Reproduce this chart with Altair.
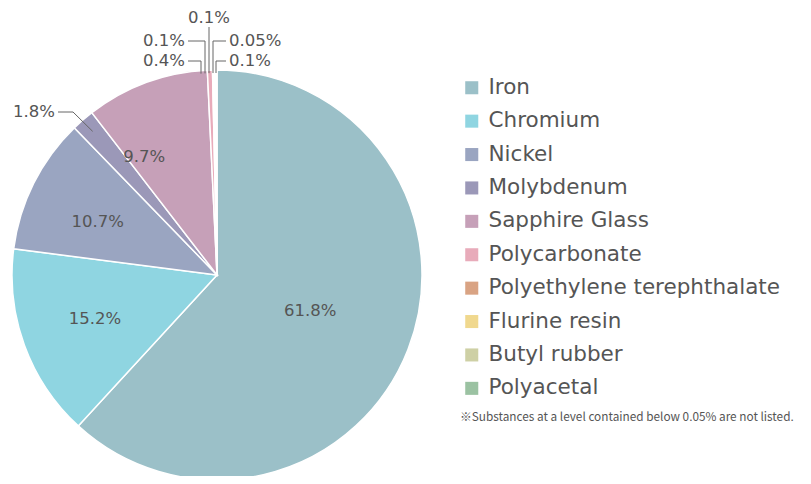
import math
import altair as alt
import pandas as pd

# ---- data ----
materials = ["Iron", "Chromium", "Nickel", "Molybdenum", "Sapphire Glass",
             "Polycarbonate", "Polyethylene terephthalate", "Flurine resin",
             "Butyl rubber", "Polyacetal"]
shares = [61.8, 15.2, 10.7, 1.8, 9.7, 0.4, 0.1, 0.1, 0.05, 0.1]
labels = ["61.8%", "15.2%", "10.7%", "1.8%", "9.7%", "0.4%", "0.1%", "0.1%", "0.05%", "0.1%"]
footnote = "※Substances at a level contained below 0.05% are not listed."

# ---- styles ----
colors = ["#9bc0c8", "#8fd5e1", "#9aa5c1", "#9b98b8", "#c6a0b8",
          "#e8abba", "#d9a383", "#f0d88e", "#ced0a5", "#9bc2a2"]
FONT = "DejaVu Sans"
NOTE_FONT = "Noto Sans CJK JP"
TXT = "#555555"
CX, CY, R = 209, 267, 205
W, H = 795, 468

df = pd.DataFrame({"material": materials, "share": shares, "label": labels,
                   "idx": list(range(len(materials)))})

total = sum(shares)
cum = 0.0
mids = []
for v in shares:
    mids.append((cum + v / 2) / total * 2 * math.pi)
    cum += v
df["mid"] = mids


def pt(angle, r):
    return CX + r * math.sin(angle), CY - r * math.cos(angle)


# inside label placement: radius and small nudges (px)
inside_style = {
    "Iron": dict(r=100, dx=0, dy=0),
    "Chromium": dict(r=130, dx=0, dy=-1),
    "Nickel": dict(r=130, dx=-3, dy=5),
    "Sapphire Glass": dict(r=130, dx=-28, dy=4),
}

# callout layout relative to the pie centre (px)
callout_style = {
    "Molybdenum": dict(side="left", elbow=(-144, -163), end_x=-159, edge_r=190),
    "Polycarbonate": dict(side="left", vx=-16, level=-214, end_x=-29),
    "Polyethylene terephthalate": dict(side="left", vx=-12, level=-234, end_x=-29),
    "Flurine resin": dict(side="top", vx=-8, level=-248),
    "Butyl rubber": dict(side="right", vx=-4, level=-234, end_x=9),
    "Polyacetal": dict(side="right", vx=-1, level=-214, end_x=9),
}

ins = []
for _, row in df.iterrows():
    st = inside_style.get(row["material"])
    if st is None:
        continue
    x, y = pt(row["mid"], st["r"])
    ins.append(dict(x=x + st["dx"], y=y + st["dy"], text=row["label"]))
ins_df = pd.DataFrame(ins)

segs = []
texts = []
for _, row in df.iterrows():
    st = callout_style.get(row["material"])
    if st is None:
        continue
    if row["material"] == "Molybdenum":
        ex, ey = pt(row["mid"], st["edge_r"])
        bx, by = CX + st["elbow"][0], CY + st["elbow"][1]
        segs.append(dict(x=ex, y=ey, x2=bx, y2=by))
        segs.append(dict(x=bx, y=by, x2=CX + st["end_x"], y2=by))
        texts.append(dict(x=CX + st["end_x"] - 3, y=by, text=row["label"], side="left"))
        continue
    vx = CX + st["vx"]
    ey = CY - math.sqrt(R * R - st["vx"] ** 2) + 3
    ly = CY + st["level"]
    segs.append(dict(x=vx, y=ey, x2=vx, y2=ly))
    if st["side"] == "top":
        texts.append(dict(x=vx, y=ly - 9, text=row["label"], side="top"))
    else:
        segs.append(dict(x=vx, y=ly, x2=CX + st["end_x"], y2=ly))
        dx = -3 if st["side"] == "left" else 3
        texts.append(dict(x=CX + st["end_x"] + dx, y=ly, text=row["label"], side=st["side"]))

seg_df = pd.DataFrame(segs)
txt_df = pd.DataFrame(texts)

color = alt.Color(
    "material:N",
    scale=alt.Scale(domain=materials, range=colors),
    legend=alt.Legend(
        title=None, orient="none", legendX=453, legendY=69,
        symbolType="square", symbolSize=170, symbolStrokeWidth=0,
        symbolOpacity=1,
        labelFont=FONT, labelFontSize=21.5, labelColor=TXT,
        labelOffset=6, rowPadding=10.4, labelLimit=400,
    ),
)

pie = alt.Chart(df).mark_arc(outerRadius=R, stroke="white", strokeWidth=1.5).encode(
    theta=alt.Theta("share:Q", stack=True),
    color=color,
    order=alt.Order("idx:Q"),
    x=alt.value(CX), y=alt.value(CY),
)

inside = alt.Chart(ins_df).mark_text(
    font=FONT, fontSize=16.5, color=TXT
).encode(x=alt.X("x:Q", scale=None), y=alt.Y("y:Q", scale=None), text="text:N")

rules = alt.Chart(seg_df).mark_rule(color="#666666", strokeWidth=1).encode(
    x=alt.X("x:Q", scale=None), y=alt.Y("y:Q", scale=None),
    x2="x2:Q", y2="y2:Q",
)


def label_layer(side, align):
    return alt.Chart(txt_df[txt_df.side == side]).mark_text(
        font=FONT, fontSize=16.5, color=TXT, align=align, baseline="middle"
    ).encode(x=alt.X("x:Q", scale=None), y=alt.Y("y:Q", scale=None), text="text:N")


note = alt.Chart(pd.DataFrame({"t": [footnote]})).mark_text(
    font=NOTE_FONT, fontSize=11.8, color=TXT, align="left", baseline="middle"
).encode(x=alt.value(452), y=alt.value(409), text="t:N")

chart = alt.layer(
    pie, inside, rules,
    label_layer("left", "right"), label_layer("right", "left"), label_layer("top", "center"),
    note,
).properties(
    width=W, height=H, autosize="none", padding=0,
).configure_view(stroke=None)

chart.save("out.html", embed_options={"renderer": "svg", "actions": False})
